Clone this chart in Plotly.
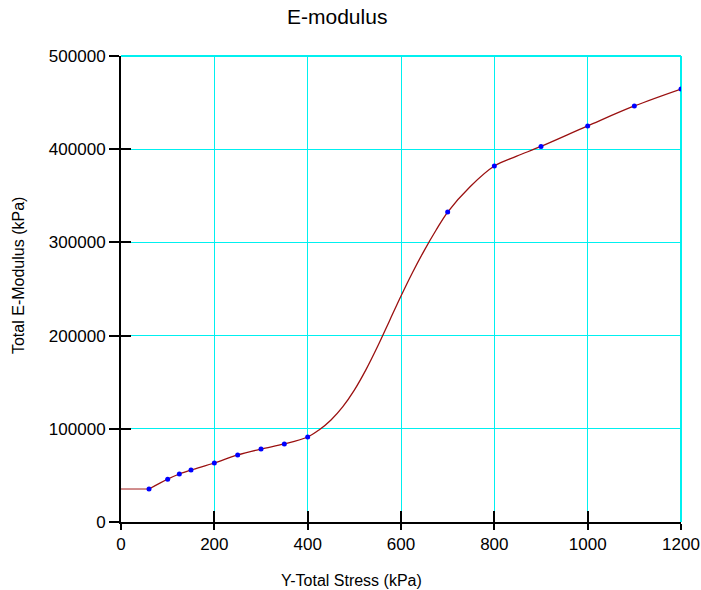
import plotly.graph_objects as go

# measured points
stress = [60, 100, 125, 150, 200, 250, 300, 350, 400, 700, 800, 900, 1000, 1100, 1200]
modulus = [35400, 46000, 51500, 55800, 63300, 71900, 78300, 83700, 91200,
           332600, 382000, 403000, 425000, 446400, 464600]

# fitted curve
curve_x = [60, 100, 125, 150, 200, 250, 300, 350, 400, 425, 450, 475, 500, 525, 550,
           575, 600, 625, 650, 675, 700, 748, 800, 848, 900, 1000, 1100, 1200]
curve_y = [35400, 46000, 51500, 55800, 63300, 71900, 78300, 83700, 91200, 99000,
           109500, 123500, 141500, 163500, 188500, 215500, 242500, 268000, 291500,
           313000, 332600, 359800, 382000, 392500, 403000, 425000, 446400, 464600]
flat_x = [0, 60]
flat_y = [35400, 35400]

x_ticks = [0, 200, 400, 600, 800, 1000, 1200]
y_ticks = [0, 100000, 200000, 300000, 400000, 500000]
y_tick_text = ["0", "100000", "200000", "300000", "400000", "500000"]

FONT = "Liberation Sans, Arial, sans-serif"
GRID = "#00f0f0"
LINE = "#9a1010"

fig = go.Figure()
fig.add_trace(go.Scatter(x=flat_x, y=flat_y, mode="lines",
                         line=dict(color="#b85050", width=1.3), hoverinfo="skip"))
fig.add_trace(go.Scatter(x=curve_x, y=curve_y, mode="lines",
                         line=dict(color=LINE, width=1.3, shape="spline", smoothing=1.0),
                         hoverinfo="skip"))
fig.add_trace(go.Scatter(x=stress, y=modulus, mode="markers",
                         marker=dict(color="#0000ff", size=5)))
# invisible trace for the overlay axes (inside tick marks)
fig.add_trace(go.Scatter(x=[0], y=[0], xaxis="x2", yaxis="y2", mode="markers",
                         marker=dict(opacity=0), hoverinfo="skip"))

fig.update_layout(
    width=701, height=590,
    margin=dict(l=121, r=20, t=56, b=68, autoexpand=False),
    paper_bgcolor="white", plot_bgcolor="white",
    showlegend=False,
    font=dict(family=FONT, size=17, color="black"),
    xaxis=dict(range=[0, 1200], tickvals=x_ticks, ticktext=[str(v) for v in x_ticks],
               showgrid=True, gridcolor=GRID, gridwidth=1.2, zeroline=False,
               showline=True, linecolor="black", linewidth=2, automargin=False,
               ticks="outside", ticklen=6, tickwidth=2, tickcolor="black",
               tickfont=dict(size=17)),
    yaxis=dict(range=[0, 500000], tickvals=y_ticks, ticktext=y_tick_text,
               showgrid=True, gridcolor=GRID, gridwidth=1.2, zeroline=False,
               showline=True, linecolor="black", linewidth=2, automargin=False,
               ticks="outside", ticklen=10, tickwidth=2, tickcolor="black",
               tickfont=dict(size=17)),
    xaxis2=dict(range=[0, 1200], overlaying="x", matches="x", side="bottom",
                tickvals=x_ticks, showticklabels=False, showgrid=False, zeroline=False,
                showline=False, ticks="inside", ticklen=11, tickwidth=2, tickcolor="black"),
    yaxis2=dict(range=[0, 500000], overlaying="y", matches="y", side="left",
                tickvals=y_ticks, showticklabels=False, showgrid=False, zeroline=False,
                showline=False, ticks="inside", ticklen=10, tickwidth=2, tickcolor="black"),
    shapes=[
        dict(type="line", xref="paper", yref="paper", x0=0, x1=1, y0=1, y1=1,
             line=dict(color=GRID, width=2), layer="below"),
        dict(type="line", xref="paper", yref="paper", x0=1, x1=1, y0=0, y1=1,
             line=dict(color=GRID, width=2), layer="below"),
    ],
    annotations=[
        dict(text="E-modulus", xref="paper", yref="paper", x=0.3866, y=1.084,
             xanchor="center", yanchor="middle", showarrow=False,
             font=dict(size=21, family=FONT)),
        dict(text="Y-Total Stress (kPa)", xref="paper", yref="paper", x=0.4116, y=-0.1245,
             xanchor="center", yanchor="middle", showarrow=False,
             font=dict(size=16, family=FONT)),
        dict(text="Total E-Modulus (kPa)", xref="paper", yref="paper", x=-0.182, y=0.528,
             xanchor="center", yanchor="middle", showarrow=False, textangle=-90,
             font=dict(size=16, family=FONT)),
    ],
)

fig.write_html("out.html")
